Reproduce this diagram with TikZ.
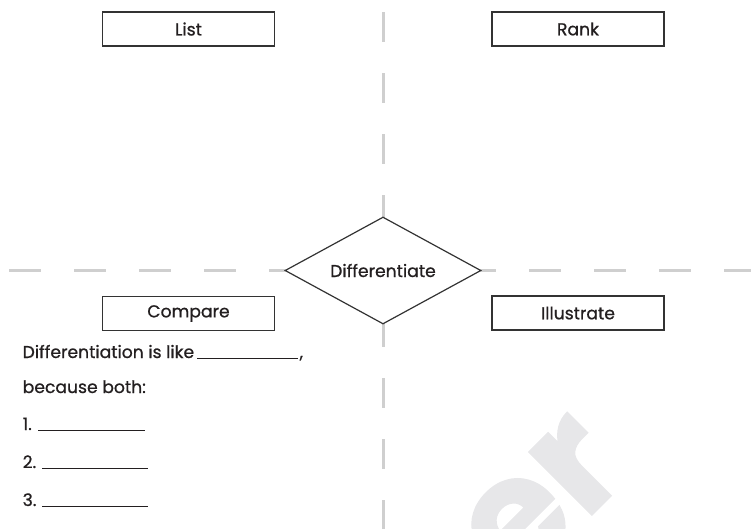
\documentclass[tikz,border=0pt]{standalone}
\usepackage{fontspec}
\setmainfont{Poppins}[FakeBold=0.8]
\usetikzlibrary{shapes.geometric}
\definecolor{txt}{HTML}{231F20}
\definecolor{boxc}{HTML}{333333}
\definecolor{guidec}{HTML}{CFCFCF}
\definecolor{wmark}{HTML}{E7E7E9}
\begin{document}
\begin{tikzpicture}[x=1pt,y=-1pt,
  lbl/.style={font=\fontsize{17.2}{20}\selectfont, text=txt, inner sep=0pt},
  stepbox/.style={draw=boxc, line width=1.2pt, minimum width=172pt, minimum height=34pt, fill=white, lbl},
  guide/.style={draw=guidec, line width=3pt},
  blank/.style={draw=txt, line width=0.8pt},
  wm/.style={font=\fontsize{160}{160}\selectfont\bfseries, text=wmark, rotate=45, inner sep=0pt}]
\useasboundingbox (0,0) rectangle (751,528);
\clip (0,0) rectangle (751,528);
% watermark
\node[wm, anchor=base west] (wmk) at (515,592) {er};
% guides
\draw[guide, dash pattern=on 30pt off 31pt] (383,12) -- (383,530);
\draw[guide, dash pattern=on 32pt off 33pt] (9,270.5) -- (753,270.5);
% diamond
\node[diamond, draw=boxc, line width=1.2pt, fill=white, minimum width=196pt, minimum height=107pt, inner sep=0pt] (diff) at (383,270.5) {};
\node[lbl] (difft) at (diff.center) {Differentiate};
% boxes
\node[stepbox] (list) at (188.5,29) {List};
\node[stepbox] (rank) at (578,29) {Rank};
\node[stepbox] (compare) at (188.5,313.5) {Compare};
\node[stepbox] (illus) at (578,313) {Illustrate};
% compare text
\node[lbl, anchor=base west] (like) at (22.5,358) {Differentiation is like};
\coordinate (b0s) at (197,358); \coordinate (b0e) at (298,358);
\draw[blank] (b0s) -- (b0e);
\node[lbl, anchor=base west] (comma) at (299.5,358) {,};
\node[lbl, anchor=base west] (because) at (22.5,393) {because both:};
\node[lbl, anchor=base west] (n1) at (22.5,430) {1.};
\coordinate (b1s) at (38,430); \coordinate (b1e) at (145,430);
\draw[blank] (b1s) -- (b1e);
\node[lbl, anchor=base west] (n2) at (22.5,468) {2.};
\coordinate (b2s) at (42,468); \coordinate (b2e) at (148,468);
\draw[blank] (b2s) -- (b2e);
\node[lbl, anchor=base west] (n3) at (22.5,506) {3.};
\coordinate (b3s) at (42,506); \coordinate (b3e) at (148,506);
\draw[blank] (b3s) -- (b3e);
\end{tikzpicture}
\end{document}
